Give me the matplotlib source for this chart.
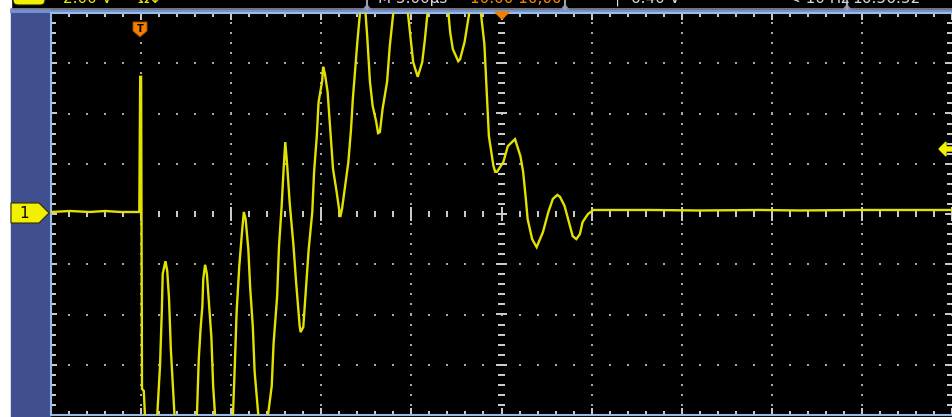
import numpy as np
import matplotlib.pyplot as plt
from matplotlib.patches import Rectangle, Polygon, FancyBboxPatch

# channel 1 trace, in screen divisions (10 x 8 grid, origin at screen centre)
trace_t = [-5.00, -4.79, -4.57, -4.40, -4.23, -4.02,
           -4.01, -4.00, -3.99, -3.97, -3.95, -3.89,
           -3.82, -3.79, -3.77, -3.76, -3.73, -3.71, -3.69, -3.67, -3.63, -3.51,
           -3.38, -3.36, -3.34, -3.32, -3.31, -3.29, -3.27, -3.25, -3.22, -3.20, -3.18, -3.09,
           -2.98, -2.96, -2.94, -2.91, -2.88, -2.86, -2.84, -2.81, -2.79, -2.76, -2.74, -2.70, -2.65,
           -2.59, -2.55, -2.53, -2.49, -2.47, -2.44, -2.42, -2.40, -2.38, -2.35, -2.31, -2.28,
           -2.24, -2.23, -2.20, -2.17, -2.14, -2.10, -2.08, -2.05, -2.03, -1.99, -1.98,
           -1.96, -1.93, -1.89, -1.87, -1.83, -1.79, -1.77, -1.74, -1.70, -1.67, -1.65,
           -1.60, -1.57, -1.55, -1.51, -1.49, -1.46, -1.43, -1.39, -1.37, -1.35, -1.32,
           -1.27, -1.24, -1.20, -1.13, -1.04, -1.00, -0.98, -0.93, -0.88, -0.85, -0.82,
           -0.70, -0.59, -0.57, -0.54, -0.48, -0.46, -0.41, -0.36, -0.28, -0.23, -0.19,
           -0.16, -0.14, -0.09, -0.07, -0.05, 0.02, 0.07, 0.15, 0.21, 0.24, 0.27, 0.29,
           0.34, 0.39, 0.46, 0.52, 0.57, 0.62, 0.65, 0.70, 0.76, 0.79, 0.83, 0.87, 0.90,
           0.96, 1.02, 1.65, 2.20, 2.87, 3.31, 3.98, 5.00]
trace_v = [0.04, 0.06, 0.04, 0.06, 0.04, 0.04,
           2.73, 2.73, -3.48, -3.52, -4.30, -5.07,
           -3.98, -3.02, -1.93, -1.19, -0.94, -1.13, -1.69, -2.69, -3.98, -4.88,
           -3.98, -2.89, -2.29, -1.83, -1.29, -1.01, -1.19, -1.69, -2.45, -3.44, -3.98, -4.78,
           -3.98, -3.02, -1.95, -1.03, -0.36, 0.04, -0.10, -0.70, -1.45, -2.25, -3.14, -3.98, -4.48,
           -3.98, -3.42, -2.59, -1.63, -0.66, 0.16, 0.84, 1.43, 1.00, 0.20, -0.60, -1.35,
           -2.23, -2.35, -2.25, -1.49, -0.70, 0.04, 0.84, 1.55, 2.23, 2.65, 2.93,
           2.79, 2.43, 1.43, 0.90, 0.44, -0.06, 0.10, 0.50, 1.03, 1.69, 2.29,
           3.42, 4.02, 4.48, 4.02, 3.52, 2.63, 2.15, 1.83, 1.61, 1.63, 2.09,
           2.63, 3.34, 4.02, 4.78, 4.02, 3.34, 3.02, 2.73, 3.02, 3.48, 4.02,
           4.88, 4.02, 3.62, 3.28, 3.04, 3.08, 3.42, 3.98, 4.68, 4.02, 3.38,
           2.29, 1.55, 0.96, 0.84, 0.84, 1.03, 1.35, 1.49, 1.15, 0.84, 0.30, -0.10,
           -0.50, -0.66, -0.36, 0.04, 0.30, 0.38, 0.34, 0.16, -0.24, -0.44, -0.50, -0.40, -0.16,
           0.00, 0.08, 0.08, 0.07, 0.08, 0.07, 0.08, 0.08]

# status line texts: (x pixel, text, colour)
status_texts = [(63, "2.00 V", "#e8e800"),
                (137, "\u03a9\u2193", "#e8e800"),
                (378, "M 5.00\u00b5s", "#d8d8d8"),
                (470, "10.00 10,00", "#f08c00"),
                (612, "\u2510  6.40 V", "#d8d8d8"),
                (788, "< 10 Hz", "#d8d8d8"),
                (852, "16:56:52", "#d8d8d8")]
separators_x = [367, 565, 847]

h_half = 5
v_half = 4
W, H = 953, 417
YELLOW = "#e2e200"
ORANGE = "#f08000"
GRID = "#a8a8a8"
BORDER = "#9bbbe6"

fig = plt.figure(figsize=(W / 100, H / 100), dpi=100, facecolor="black")

# background: white margin, blue side panel, status strip
bg = fig.add_axes([0, 0, 1, 1], zorder=0)
bg.set_xlim(0, W)
bg.set_ylim(H, 0)
bg.axis("off")
bg.add_patch(Rectangle((0, 0), 11, H, color="white"))
bg.add_patch(Rectangle((11, 9), 39, H - 9, color="#3f4f8f"))
bg.add_patch(FancyBboxPatch((13, -8), 32, 13, boxstyle="round,pad=0,rounding_size=5",
                            fc="#f0f000", ec="#202020", lw=0.8))
bg.plot([11, W], [8.5, 8.5], color="#8c8c96", lw=1.2)
bg.plot([11, W], [10.8, 10.8], color="#6f92d2", lw=2.2)
for sx in separators_x:
    bg.plot([sx, sx], [0, 9], color="#a0a0a8", lw=1.5)
    bg.add_patch(Polygon([(sx - 5, 11), (sx + 5, 11), (sx, 5)], color="#6f92d2"))
for tx, txt, col in status_texts:
    bg.text(tx, -1.5, txt, color=col, fontsize=11, va="center", ha="left",
            family="DejaVu Sans")

# scope screen in divisions
ax = fig.add_axes([51 / W, 2 / H, 901 / W, 402 / H], zorder=2)
ax.set_xlim(-h_half, h_half)
ax.set_ylim(-v_half, v_half)
ax.patch.set_alpha(0)
ax.set_xticks([])
ax.set_yticks([])
for side in ["left", "top", "bottom"]:
    ax.spines[side].set_color(BORDER)
    ax.spines[side].set_linewidth(1.5)
ax.spines["right"].set_visible(False)

# dotted graticule
fine_x = np.arange(-h_half, h_half + 0.001, 0.2)
fine_y = np.arange(-v_half, v_half + 0.001, 0.2)
for gx in range(-h_half + 1, h_half):
    if gx == 0:
        continue
    ax.plot(np.full_like(fine_y, gx), fine_y, "s", ms=1.5, color=GRID, mew=0)
for gy in range(-v_half + 1, v_half):
    if gy == 0:
        continue
    ax.plot(fine_x, np.full_like(fine_x, gy), "s", ms=1.5, color=GRID, mew=0)

# centre axes and border ticks
major_x = np.isclose(fine_x, np.round(fine_x))
major_y = np.isclose(fine_y, np.round(fine_y))
tk = dict(color="#cfcfcf", lw=1.4)
ax.vlines(fine_x, np.where(major_x, -0.13, -0.065), np.where(major_x, 0.13, 0.065), **tk)
ax.hlines(fine_y, np.where(major_y, -0.06, -0.04), np.where(major_y, 0.06, 0.04), **tk)
ax.vlines(fine_x, v_half - np.where(major_x, 0.14, 0.07), v_half, **tk)
ax.vlines(fine_x, -v_half, -v_half + np.where(major_x, 0.14, 0.07), **tk)
ax.hlines(fine_y, -h_half, -h_half + np.where(major_y, 0.07, 0.05), **tk)
ax.hlines(fine_y, h_half - np.where(major_y, 0.08, 0.06), h_half, **tk)

ax.plot(trace_t, trace_v, color=YELLOW, lw=1.7, solid_joinstyle="miter", zorder=5)

# channel, trigger position and trigger level markers
fg = fig.add_axes([0, 0, 1, 1], zorder=3)
fg.set_xlim(0, W)
fg.set_ylim(H, 0)
fg.axis("off")
fg.add_patch(Polygon([(11, 203), (39, 203), (49, 213), (39, 223), (11, 223)],
                     fc="#f0f000", ec="#303000", lw=0.8))
fg.text(24, 213.5, "1", color="black", fontsize=11, ha="center", va="center")
fg.add_patch(Polygon([(133, 22), (147, 22), (147, 31), (140, 37), (133, 31)],
                     fc=ORANGE, ec="#a04800", lw=0.6))
fg.text(140, 28.5, "T", color="black", fontsize=7, ha="center", va="center",
        fontweight="bold")
fg.add_patch(Polygon([(495, 12), (509, 12), (502, 19)], color=ORANGE))
fg.add_patch(Polygon([(939, 149), (946, 142), (946, 147), (953, 147), (953, 151),
                      (946, 151), (946, 156)], color="#f0f000"))

fig.savefig("out.png", dpi=100, facecolor="black")
